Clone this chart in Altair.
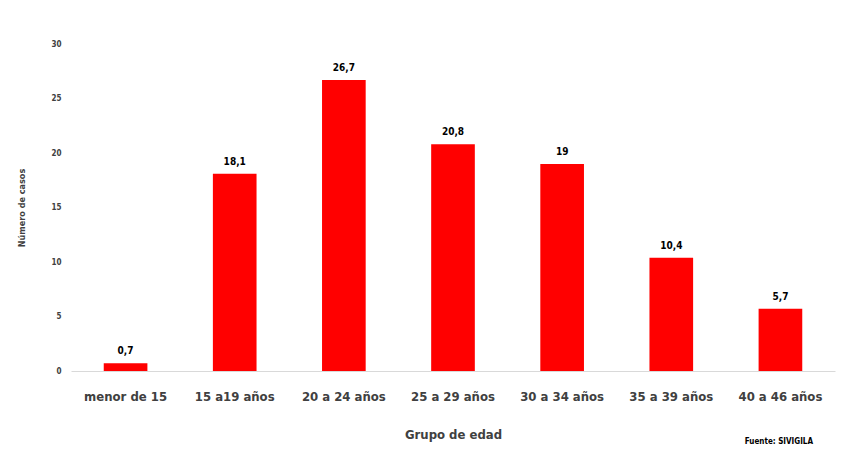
import altair as alt
import pandas as pd

categorias = ["menor de 15", "15 a19 años", "20 a 24 años", "25 a 29 años",
              "30 a 34 años", "35 a 39 años", "40 a 46 años"]
valores = [0.7, 18.1, 26.7, 20.8, 19, 10.4, 5.7]
etiquetas = ["0,7", "18,1", "26,7", "20,8", "19", "10,4", "5,7"]
fuente = "Fuente: SIVIGILA"

df = pd.DataFrame({"grupo": categorias, "casos": valores, "etiqueta": etiquetas})

FONT = "Liberation Sans Narrow, DejaVu Sans Condensed, sans-serif"

x = alt.X("grupo:N", sort=categorias,
          scale=alt.Scale(paddingInner=0.6, paddingOuter=0.3),
          axis=alt.Axis(title="Grupo de edad", labelAngle=0, ticks=False,
                        domainColor="#d9d9d9", domainWidth=1,
                        labelFont=FONT, labelFontSize=13, labelFontWeight="bold",
                        labelColor="#404040", labelPadding=19,
                        titleFont=FONT, titleFontSize=13, titleFontWeight="bold",
                        titleColor="#404040", titlePadding=25))
y = alt.Y("casos:Q", scale=alt.Scale(domain=[0, 30], nice=False),
          axis=alt.Axis(title="Número de casos", values=[0, 5, 10, 15, 20, 25, 30],
                        grid=False, domain=False, ticks=False,
                        labelFont=FONT, labelFontSize=8, labelFontWeight="bold",
                        labelColor="#404040", labelPadding=10,
                        titleFont=FONT, titleFontSize=9, titleFontWeight="bold",
                        titleColor="#404040", titlePadding=24))

bars = alt.Chart(df).mark_bar(color="#ff0000").encode(x=x, y=y)
text = alt.Chart(df).mark_text(dy=-12, font=FONT, fontSize=10, fontWeight="bold",
                               color="#000000").encode(x=x, y=y, text="etiqueta:N")
src = alt.Chart(pd.DataFrame({"t": [fuente]})).mark_text(
    font=FONT, fontSize=8, fontWeight="bold", color="#000000", align="right",
    baseline="middle"
).encode(x=alt.value(742), y=alt.value(398), text="t:N")

chart = alt.layer(bars, text, src).properties(
    width=764, height=327,
    autosize=alt.AutoSizeParams(type="none"),
    padding={"left": 63, "top": 36, "right": 16, "bottom": 78},
).configure(background="white").configure_view(stroke=None)

chart.save("out.html", embed_options={"renderer": "svg", "actions": False})
